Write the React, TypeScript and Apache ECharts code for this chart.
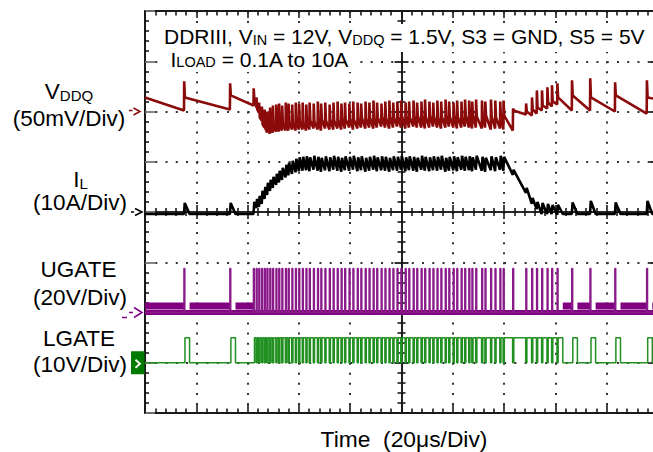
import React, { useEffect, useRef } from "react";
import * as echarts from "echarts";

// ---- screen / axes (oscilloscope: 10 x 8 divisions, 20 us/div, centred on trigger) ----
const TIME_MIN_US = -100;
const TIME_MAX_US = 100;
const TIME_DIV_US = 20;
const DIV_MIN = -4;
const DIV_MAX = 4;

// ---- channel settings (reference-marker offset in divisions, units per division) ----
const chVddq = { offsetDiv: 2, perDiv: 50 }; // mV
const chIl = { offsetDiv: 0, perDiv: 10 }; // A
const chUgate = { offsetDiv: -2, perDiv: 20 }; // V
const chLgate = { offsetDiv: -3, perDiv: 10 }; // V

// ---- switching events: UGATE pulse instants (us) ----
const pulseUs = [
  -84.8, -66.9, -57.7, -56.6, -55.6, -54.5, -53.4, -52.4, -51.3, -50.2,
  -48.9, -47.8, -46.6, -45.2, -44.1, -42.7, -41.3, -40.0, -38.6, -37.2,
  -35.9, -34.3, -32.7, -31.4, -29.8, -28.1, -26.6, -25.0, -23.5, -22.1,
  -20.4, -18.9, -17.2, -15.8, -14.1, -12.6, -11.0, -9.6, -7.9, -6.4,
  -4.8, -3.3, -1.7, -0.2, 1.5, 2.9, 4.6, 6.0, 7.7, 9.1,
  10.8, 12.3, 13.9, 15.4, 17.1, 18.5, 20.2, 21.6, 23.3, 24.7,
  26.3, 27.5, 29.0, 31.3, 32.6, 34.8, 36.5, 38.4, 39.7, 43.4,
  48.5, 50.8, 52.7, 54.7, 56.8, 58.6, 60.7, 66.4, 73.5, 83.2, 95.6,
];

// ---- VDDQ (mV from 1.5 V): level just before each pulse, spike top, level after spike ----
const vddqStartMv = 14;
const vddqEndMv = 12;
const vddqBeforeMv = [
  1, 2, 6, 4, -1, -9, -16, -21, -22, -21,
  -20, -20, -19, -19, -19, -18, -19, -18, -18, -19,
  -18, -17, -18, -19, -17, -18, -18, -17, -18, -17,
  -16, -18, -17, -16, -17, -16, -17, -16, -15, -16,
  -17, -16, -15, -16, -17, -16, -15, -16, -16, -17,
  -16, -15, -16, -17, -16, -15, -16, -17, -16, -15,
  -16, -17, -16, -17, -16, -18, -17, -17, -18, -19,
  -3, -4, -2, 1, 3, 5, 7, 1, 1, 0, -2,
];
const vddqSpikeMv = [
  30, 28, 23, 14, 9, 5, 2, 0, 4, 6,
  7, 8, 6, 9, 8, 7, 9, 8, 9, 7,
  9, 8, 10, 8, 9, 7, 9, 10, 8, 9,
  8, 10, 9, 8, 10, 9, 11, 9, 8, 10,
  11, 9, 10, 11, 9, 10, 11, 9, 10, 12,
  10, 9, 11, 10, 12, 10, 9, 11, 10, 12,
  11, 10, 12, 11, 10, 12, 11, 10, 11, 3,
  8, 14, 21, 21, 24, 26, 28, 31, 33, 29, 31,
];
const vddqAfterMv = [
  14, 16, 11, 2, -6, -13, -17, -19, -18, -16,
  -14, -13, -12, -12, -11, -11, -10, -10, -11, -10,
  -9, -10, -9, -8, -9, -8, -9, -8, -7, -8,
  -7, -8, -7, -6, -7, -6, -7, -6, -5, -6,
  -5, -6, -5, -4, -5, -6, -5, -4, -5, -5,
  -4, -5, -6, -5, -4, -5, -4, -5, -6, -4,
  -5, -4, -5, -6, -4, -5, -6, -5, -4, 1,
  0, 2, 4, 6, 9, 10, 14, 16, 14, 16, 14,
];

// ---- inductor current (A): valley at each pulse, peak at end of on-time ----
const ilBaseA = -0.4;
const ilValleyA = [
  -0.4, -0.4, -0.4, 0.8, 1.0, 1.6, 2.6, 3.4, 4.2, 4.8,
  5.4, 5.9, 6.4, 6.9, 7.3, 7.6, 7.9, 8.1, 8.2, 8.3,
  8.1, 8.4, 8.2, 8.0, 8.3, 8.1, 8.4, 8.2, 8.0, 8.3,
  8.2, 8.4, 8.1, 8.3, 8.0, 8.2, 8.4, 8.1, 8.3, 8.2,
  8.0, 8.3, 8.2, 8.4, 8.1, 8.3, 8.2, 8.0, 8.4, 8.2,
  8.1, 8.3, 8.2, 8.4, 8.0, 8.2, 8.3, 8.1, 8.4, 8.2,
  8.3, 8.1, 8.4, 8.2, 8.0, 8.3, 8.1, 8.4, 8.2, 7.4,
  3.8, 1.6, 0.6, -0.2, -0.2, -0.4, -0.6, -0.4, -0.4, -0.4, -0.4,
];
const ilPeakA = [
  1.8, 1.8, 2.0, 2.6, 3.2, 4.2, 5.0, 5.8, 6.4, 7.0,
  7.6, 8.2, 8.8, 9.4, 9.8, 10.2, 10.6, 10.9, 11.0, 11.1,
  10.9, 11.2, 11.0, 10.8, 11.1, 10.9, 11.2, 11.0, 10.8, 11.1,
  11.0, 11.2, 10.9, 11.1, 10.8, 11.0, 11.2, 10.9, 11.1, 11.0,
  10.8, 11.1, 11.0, 11.2, 10.9, 11.1, 11.0, 10.8, 11.2, 11.0,
  10.9, 11.1, 11.0, 11.2, 10.8, 11.0, 11.1, 10.9, 11.2, 11.0,
  11.1, 10.9, 11.2, 11.0, 10.8, 11.1, 10.9, 11.2, 11.0, 8.4,
  4.8, 2.8, 2.0, 1.8, 1.6, 1.4, 1.4, 1.9, 2.2, 1.9, 2.2,
];

// ---- gate drive levels (V) ----
const ugateHighV = 17.5;
const ugateLedgeV = 2.6;
const lgateHighV = 5;

// ---- timing (us) ----
const TON_US = 0.3;
const DEAD_US = 0.08;
const DCM_FALL_US = 1.8;
const SPIKE_RISE_US = 0.08;
const SPIKE_SETTLE_US = 0.35;

const toDiv = (ch: any, v: number) => ch.offsetDiv + v / ch.perDiv;
const nP = pulseUs.length;
const nextPulse = (i: number) => (i < nP - 1 ? pulseUs[i + 1] : TIME_MAX_US);
const isDcm = (i: number) => i === nP - 1 || ilValleyA[i + 1] <= 0;
const dcmOff = (i: number) =>
  Math.min(pulseUs[i] + TON_US + DEAD_US + DCM_FALL_US, nextPulse(i) - DEAD_US);

function buildVddq() {
  const v = (mv: number) => toDiv(chVddq, mv);
  const d: any[] = [[TIME_MIN_US, v(vddqStartMv)]];
  pulseUs.forEach((p, i) => {
    d.push([p, v(vddqBeforeMv[i])]);
    d.push([p + SPIKE_RISE_US, v(vddqSpikeMv[i])]);
    d.push([p + SPIKE_SETTLE_US, v(vddqAfterMv[i])]);
  });
  d.push([TIME_MAX_US, v(vddqEndMv)]);
  return d;
}

function buildIl() {
  const a = (x: number) => toDiv(chIl, x);
  const d: any[] = [[TIME_MIN_US, a(ilBaseA)]];
  pulseUs.forEach((p, i) => {
    d.push([p, a(ilValleyA[i])]);
    d.push([p + TON_US, a(ilPeakA[i])]);
    if (isDcm(i)) d.push([dcmOff(i), a(ilBaseA)]);
  });
  d.push([TIME_MAX_US, a(ilBaseA)]);
  return d;
}

function buildUgatePulses() {
  const u = (x: number) => toDiv(chUgate, x);
  const d: any[] = [[TIME_MIN_US, u(0)]];
  pulseUs.forEach((p) => {
    d.push([p, u(0)], [p, u(ugateHighV)], [p + TON_US, u(ugateHighV)], [p + TON_US, u(0)]);
  });
  d.push([TIME_MAX_US, u(0)]);
  return d;
}

function buildUgateLow() {
  const u = (x: number) => toDiv(chUgate, x);
  return [[TIME_MIN_US, u(0)], [TIME_MAX_US, u(0)]];
}

function buildUgateLedge() {
  const u = (x: number) => toDiv(chUgate, x);
  const d: any[] = [[TIME_MIN_US, u(ugateLedgeV)], [pulseUs[0], u(ugateLedgeV)], [pulseUs[0], null]];
  pulseUs.forEach((p, i) => {
    if (isDcm(i)) {
      const off = dcmOff(i);
      const nx = nextPulse(i);
      d.push([off, u(ugateLedgeV)], [nx, u(ugateLedgeV)], [nx, null]);
    }
  });
  return d;
}

function buildLgate() {
  const g = (x: number) => toDiv(chLgate, x);
  const d: any[] = [[TIME_MIN_US, g(0)]];
  let high = false;
  pulseUs.forEach((p, i) => {
    if (high) d.push([p - DEAD_US, g(lgateHighV)], [p - DEAD_US, g(0)]);
    const on = p + TON_US + DEAD_US;
    d.push([on, g(0)], [on, g(lgateHighV)]);
    if (isDcm(i)) {
      const off = dcmOff(i);
      d.push([off, g(lgateHighV)], [off, g(0)]);
      high = false;
    } else {
      high = true;
    }
  });
  d.push([TIME_MAX_US, g(high ? lgateHighV : 0)]);
  return d;
}

const AXIS_COLOR = "#1a1a1a";
const GRID_DOT = "#333";
const FONT_FAMILY = '"Liberation Sans", Arial, Helvetica, sans-serif';

function xAxisDef(position: string, onZero: boolean, inside: boolean, major: number, minor: number, grid: boolean) {
  return {
    type: "value",
    min: TIME_MIN_US,
    max: TIME_MAX_US,
    interval: TIME_DIV_US,
    position,
    axisLine: onZero
      ? { show: true, onZero: true, onZeroAxisIndex: 0, lineStyle: { color: AXIS_COLOR, width: 1.6 } }
      : { show: true, onZero: false, lineStyle: { color: AXIS_COLOR, width: 2 } },
    axisTick: { show: true, inside, length: major, lineStyle: { color: AXIS_COLOR, width: 1.6 } },
    minorTick: { show: true, splitNumber: 5, length: minor, lineStyle: { color: AXIS_COLOR, width: 1.6 } },
    axisLabel: { show: false },
    splitLine: grid
      ? { show: true, showMinLine: false, showMaxLine: false, lineStyle: { color: GRID_DOT, width: 2, type: [2, 8.05] } }
      : { show: false },
    minorSplitLine: { show: false },
  };
}

function yAxisDef(position: string, onZero: boolean, inside: boolean, major: number, minor: number, grid: boolean, majorColor: string) {
  return {
    type: "value",
    min: DIV_MIN,
    max: DIV_MAX,
    interval: 1,
    position,
    axisLine: onZero
      ? { show: true, onZero: true, onZeroAxisIndex: 0, lineStyle: { color: AXIS_COLOR, width: 1.6 } }
      : { show: true, onZero: false, lineStyle: { color: AXIS_COLOR, width: 2 } },
    axisTick: { show: true, inside, length: major, lineStyle: { color: majorColor, width: 1.8 } },
    minorTick: { show: true, splitNumber: 5, length: minor, lineStyle: { color: AXIS_COLOR, width: 1.6 } },
    axisLabel: { show: false },
    splitLine: grid
      ? { show: true, showMinLine: false, showMaxLine: false, lineStyle: { color: GRID_DOT, width: 2, type: [2, 8.26] } }
      : { show: false },
    minorSplitLine: { show: false },
  };
}

function lineSeries(name: string, data: any[], color: string, width: number, z: number) {
  return {
    type: "line",
    name,
    data,
    xAxisIndex: 0,
    yAxisIndex: 0,
    symbol: "none",
    showSymbol: false,
    connectNulls: false,
    silent: true,
    z,
    lineStyle: { color, width },
    itemStyle: { color },
  };
}

function buildOption() {
  return {
    animation: false,
    backgroundColor: "#ffffff",
    grid: { left: 145, top: 11, width: 513, height: 402, containLabel: false, outerBoundsMode: "none" },
    xAxis: [
      xAxisDef("bottom", false, true, 8, 4.5, true),
      xAxisDef("top", false, true, 7, 4.5, false),
      xAxisDef("bottom", true, true, 7, 4, false),
      xAxisDef("bottom", true, false, 7, 4, false),
    ],
    yAxis: [
      yAxisDef("left", false, true, 10, 4, true, "#777"),
      yAxisDef("right", false, true, 8, 4, false, AXIS_COLOR),
      yAxisDef("left", true, true, 7, 4, false, AXIS_COLOR),
      yAxisDef("left", true, false, 7, 4, false, AXIS_COLOR),
    ],
    series: [
      lineSeries("VDDQ", buildVddq(), "#8b0a0a", 2.6, 3),
      lineSeries("IL", buildIl(), "#000000", 2.6, 3),
      lineSeries("UGATE band", buildUgateLow(), "#800080", 5, 3),
      lineSeries("UGATE ledge", buildUgateLedge(), "#800080", 7, 3),
      lineSeries("UGATE", buildUgatePulses(), "#8a1a8a", 1.6, 4),
      lineSeries("LGATE", buildLgate(), "#219021", 1.5, 4),
    ],
  };
}

function text(t: string, x: number, baseline: number, fs: number, align: string, subSize?: number) {
  return {
    type: "text",
    x,
    y: baseline - 0.35 * fs,
    silent: true,
    z: 100,
    style: {
      text: t,
      fill: "#000",
      fontSize: fs,
      fontFamily: FONT_FAMILY,
      textAlign: align,
      textVerticalAlign: "middle",
      rich: subSize
        ? { s: { fontSize: subSize, fontFamily: FONT_FAMILY, fill: "#000", lineHeight: 12, verticalAlign: "bottom" } }
        : undefined,
    },
  };
}

function buildGraphics(chart: any) {
  const px = (t: number, d: number) => chart.convertToPixel({ xAxisIndex: 0, yAxisIndex: 0 }, [t, d]);
  const [x0, yV] = px(TIME_MIN_US, chVddq.offsetDiv);
  const yI = px(TIME_MIN_US, chIl.offsetDiv)[1];
  const yU = px(TIME_MIN_US, chUgate.offsetDiv)[1];
  const yG = px(TIME_MIN_US, chLgate.offsetDiv)[1];
  const seg = (x1: number, y1: number, x2: number, y2: number, stroke: string) => ({
    type: "line", silent: true, z: 100,
    shape: { x1, y1, x2, y2 },
    style: { stroke, lineWidth: 1.5 },
  });
  const chev = (xa: number, xb: number, y: number, h: number, stroke: string, w = 1.5) => ({
    type: "polyline", silent: true, z: 101,
    shape: { points: [[xa, y - h], [xb, y], [xa, y + h]] },
    style: { stroke, fill: null, lineWidth: w },
  });
  const box = (x: number, y: number, width: number, height: number) => ({
    type: "rect", silent: true, z: 90,
    shape: { x, y, width, height },
    style: { fill: "#ffffff" },
  });
  const red = "#8b0a0a";
  const purple = "#800080";
  return [
    // white backing of the title block (scope annotation hides the graticule)
    box(158, 24, 500, 28),
    box(158, 52, 200, 20),
    text("DDRIII, V{s|IN} = 12V, V{s|DDQ} = 1.5V, S3 = GND, S5 = 5V", 164, 44, 21, "left", 14.5),
    text("I{s|LOAD} = 0.1A to 10A", 170.5, 66.7, 21, "left", 14.5),
    text("V{s|DDQ}", 69, 99.3, 22.5, "center", 15),
    text("(50mV/Div)", 69, 126.5, 22.5, "center"),
    text("I{s|L}", 80.5, 187, 22.5, "center", 15),
    text("(10A/Div)", 80, 210.5, 22.5, "center"),
    text("UGATE", 78.5, 277.7, 22.5, "center"),
    text("(20V/Div)", 80, 305.5, 22.5, "center"),
    text("LGATE", 79, 346.7, 22.5, "center"),
    text("(10V/Div)", 80, 372.5, 22.5, "center"),
    text("Time  (20\u03bcs/Div)", 404, 447, 22.8, "center"),
    // reference-level markers
    seg(x0 - 16, yV - 1, x0 - 12.5, yV - 1, red),
    chev(x0 - 11.5, x0 - 5, yV, 3.5, red),
    seg(x0 - 14, yI, x0 - 11, yI, "#000"),
    chev(x0 - 10, x0 - 3, yI, 3.5, "#000"),
    seg(x0 - 23, yU + 5, x0 - 18, yU + 5, purple),
    seg(x0 - 16, yU, x0 - 12, yU, purple),
    chev(x0 - 11, x0 - 3, yU, 5, purple),
    {
      type: "rect", silent: true, z: 100,
      shape: { x: x0 - 14, y: yG - 11.5, width: 13.5, height: 23 },
      style: { fill: "#007a00" },
    },
    chev(x0 - 9.5, x0 - 5, yG + 1, 4, "#ffffff", 1.8),
  ];
}

export default function App() {
  const ref = useRef<HTMLDivElement>(null);
  useEffect(() => {
    const el = ref.current;
    if (!el) return;
    const chart = echarts.init(el, null, { renderer: "svg" });
    chart.setOption(buildOption() as any);
    chart.setOption({ graphic: buildGraphics(chart) } as any);
    return () => chart.dispose();
  }, []);
  return (
    <div
      ref={ref}
      style={{ position: "absolute", left: 0, top: 0, width: 653, height: 452, background: "#fff" }}
    />
  );
}
